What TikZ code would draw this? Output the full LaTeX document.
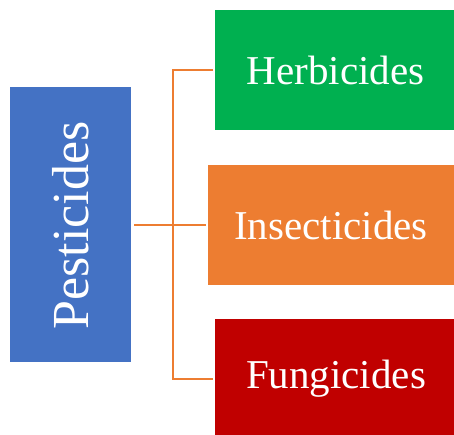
\documentclass[tikz,border=0pt]{standalone}
\usepackage{fontspec}
\setmainfont{Liberation Serif}
\definecolor{cblue}{HTML}{4472C4}
\definecolor{cgreen}{HTML}{00B050}
\definecolor{corange}{HTML}{ED7D31}
\definecolor{cred}{HTML}{C00000}
\begin{document}
\begin{tikzpicture}[x=1pt,y=1pt,
  box/.style={inner sep=0pt, outer sep=0pt, text=white, font=\fontsize{41}{48}\selectfont},
  link/.style={draw=corange, line width=2.2pt}]
\useasboundingbox (0,0) rectangle (454,435);
% boxes (y flipped: tikz y = 435 - image y)
\fill[cblue] (10,73) rectangle (131,348);
\node[box, rotate=90, anchor=base, font=\fontsize{52}{60}\selectfont] (pest) at (88,209.5) {Pesticides};
\fill[cgreen] (215,305) rectangle (454,425);
\node[box] (herb) at (335.5,365) {Herbicides};
\fill[corange] (208,150) rectangle (454,270);
\node[box] (insect) at (331,210) {Insecticides};
\fill[cred] (215,0) rectangle (454,116);
\node[box] (fung) at (336,56) {Fungicides};
\coordinate (pR) at (134,210);
\coordinate (j) at (173,210);
\coordinate (jt) at (173,365);
\coordinate (jb) at (173,56);
\coordinate (hL) at (213,365);
\coordinate (iL) at (206,210);
\coordinate (fL) at (213,56);
\draw[link] (pR) -- (iL);
\draw[link] (hL) -- (jt) -- (jb) -- (fL);
\end{tikzpicture}
\end{document}
